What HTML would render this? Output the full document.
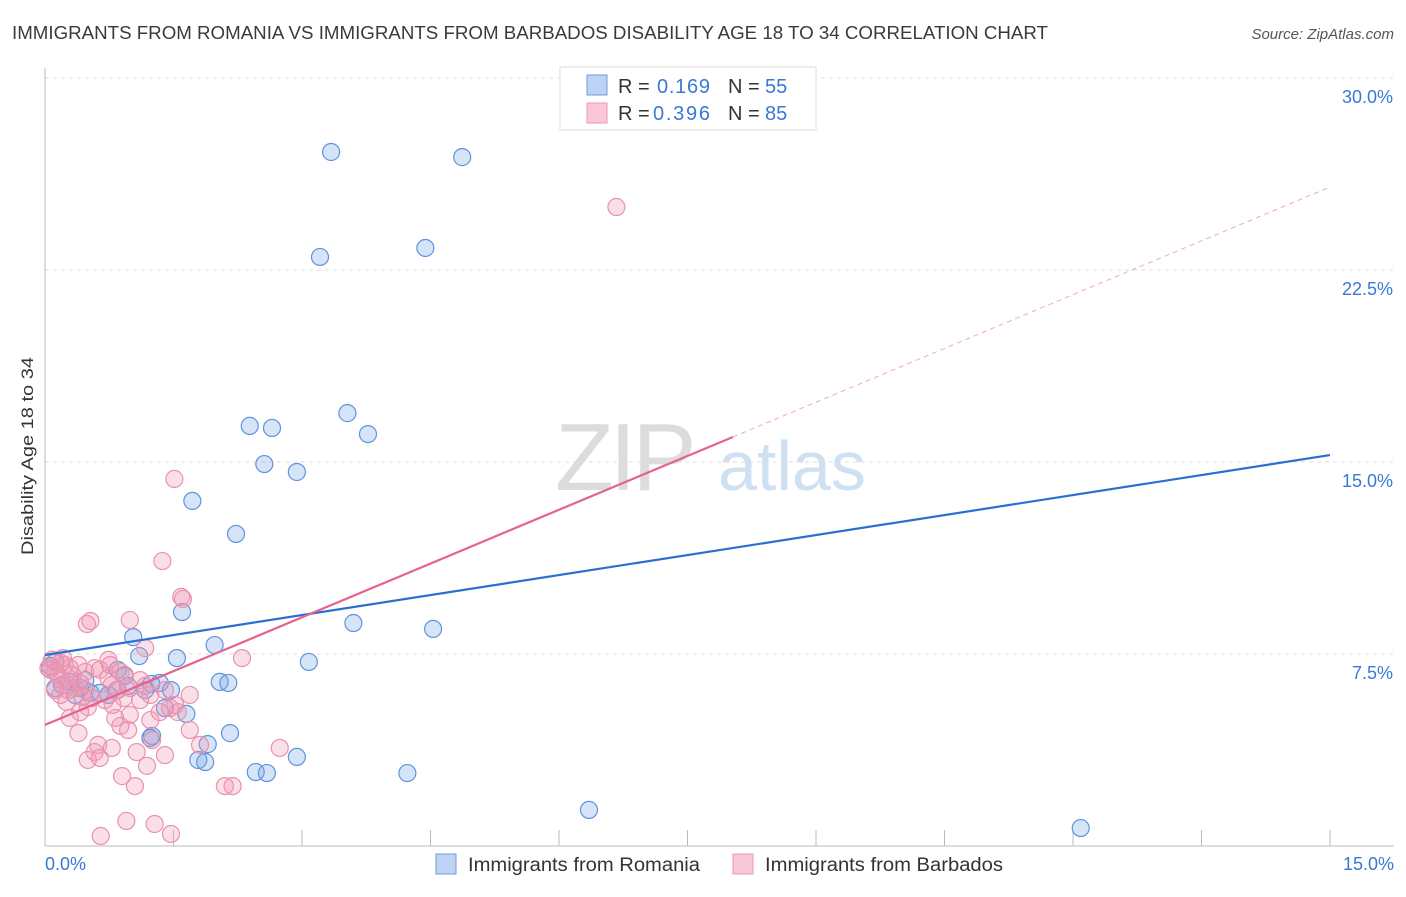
<!DOCTYPE html>
<html><head><meta charset="utf-8"><style>
body{margin:0;background:#fff;font-family:"Liberation Sans",sans-serif;}
svg text{font-family:"Liberation Sans",sans-serif;}
</style></head><body>
<svg id="chart" width="1406" height="892" viewBox="0 0 1406 892" xmlns="http://www.w3.org/2000/svg">
<text x="12" y="39" font-size="18" fill="#3a3a3a" textLength="1036" lengthAdjust="spacingAndGlyphs">IMMIGRANTS FROM ROMANIA VS IMMIGRANTS FROM BARBADOS DISABILITY AGE 18 TO 34 CORRELATION CHART</text>
<text x="1394" y="39" font-size="15" fill="#555" text-anchor="end" font-style="italic">Source: ZipAtlas.com</text>
<g>
<text x="555" y="490" font-size="96" fill="#dcdcdc" font-family="Liberation Serif" letter-spacing="-4">ZIP</text>
<text x="718" y="490" font-size="70" fill="#cfe0f3">atlas</text>
</g>
<g id="grid"></g>
<g id="axes"></g>
<g id="marks"></g>
<text transform="translate(33,456) rotate(-90)" font-size="17" fill="#333" text-anchor="middle" textLength="198" lengthAdjust="spacingAndGlyphs">Disability Age 18 to 34</text>
<g>
<rect x="560" y="67" width="256" height="63" fill="#fff" stroke="#ddd"/>
<rect x="587" y="75" width="20" height="20" fill="#bcd3f3" stroke="#6a9be0"/>
<rect x="587" y="103" width="20" height="20" fill="#f9c7d5" stroke="#ec98b2"/>
<text x="618" y="93" font-size="20" fill="#333">R =</text><text x="657" y="93" font-size="20" fill="#3a78d4" textLength="53">0.169</text>
<text x="728" y="93" font-size="20" fill="#333">N =</text><text x="765" y="93" font-size="20" fill="#3a78d4">55</text>
<text x="618" y="120" font-size="20" fill="#333">R =</text><text x="653" y="120" font-size="20" fill="#3a78d4" textLength="57">0.396</text>
<text x="728" y="120" font-size="20" fill="#333">N =</text><text x="765" y="120" font-size="20" fill="#3a78d4">85</text>
</g>
<g>
<rect x="436" y="854" width="20" height="20" fill="#bcd3f3" stroke="#6a9be0"/>
<text x="468" y="871" font-size="19" fill="#333" textLength="232" lengthAdjust="spacingAndGlyphs">Immigrants from Romania</text>
<rect x="733" y="854" width="20" height="20" fill="#f9c7d5" stroke="#ec98b2"/>
<text x="765" y="871" font-size="19" fill="#333" textLength="238" lengthAdjust="spacingAndGlyphs">Immigrants from Barbados</text>
</g>
</svg>
<script>
const yTicks=[7.5,15,22.5,30];
const yTickLabels=["7.5%","15.0%","22.5%","30.0%"];
const xTickCount=10;
const romX=[3.34,4.87,4.44,3.21,3.53,2.39,2.65,3.77,2.56,2.94,1.72,2.23,1.60,3.60,4.53,1.03,1.98,1.10,1.54,3.08,0.12,0.85,0.93,1.34,2.04,2.14,1.24,1.47,0.12,0.20,0.53,0.64,0.84,0.97,0.29,0.41,1.40,1.65,1.90,2.16,1.79,1.87,2.46,2.59,2.94,4.23,1.25,1.23,6.35,12.09,0.06,0.47,0.74,1.17,0.35];
const romY=[27.11,26.91,23.36,23.01,16.91,16.41,16.33,16.09,14.92,14.61,13.48,12.19,9.14,8.71,8.48,8.16,7.85,7.42,7.34,7.19,7.19,6.88,6.64,6.37,6.41,6.37,6.33,6.09,6.17,6.29,5.98,5.98,6.09,6.25,6.41,6.17,5.39,5.16,3.98,4.41,3.36,3.28,2.89,2.85,3.48,2.85,4.30,4.22,1.41,0.70,7.03,6.48,5.90,6.09,5.90];
const barX=[6.67,1.51,1.37,1.59,1.61,0.99,0.49,0.53,2.30,1.17,0.18,0.23,0.29,0.06,0.12,0.15,0.20,0.27,0.35,0.41,0.47,0.58,0.64,0.76,0.88,0.93,0.74,0.78,0.85,0.99,1.11,1.17,0.70,0.50,0.29,0.41,0.82,0.99,0.88,0.97,1.25,1.46,1.55,1.69,0.62,0.58,0.50,0.64,0.78,1.07,1.19,1.40,0.90,1.05,2.10,2.19,2.74,0.95,1.28,0.65,1.47,0.39,0.25,0.47,0.55,0.12,0.04,0.08,0.21,1.23,1.34,1.52,1.81,0.79,0.27,0.32,0.39,0.44,0.18,1.11,1.40,1.69,1.23,0.92,0.74];
const barY=[24.96,14.34,11.13,9.73,9.65,8.83,8.67,8.79,7.34,7.73,7.15,7.07,6.95,6.88,6.80,6.68,6.48,6.29,6.17,6.37,6.80,6.95,6.88,7.07,6.80,6.68,6.56,6.29,6.09,6.17,6.48,6.25,5.70,5.43,5.00,5.23,5.00,5.12,4.69,4.53,4.14,5.39,5.23,4.53,3.95,3.67,3.36,3.44,3.83,3.67,3.13,3.55,2.73,2.34,2.34,2.34,3.83,0.98,0.86,0.39,0.47,4.41,5.63,6.09,5.78,6.09,6.95,7.27,7.34,5.90,5.23,5.51,3.95,5.51,6.09,6.68,7.07,5.82,5.90,5.70,6.09,5.90,4.92,5.78,7.27];
const romTrend=[7.46,15.27];
const barTrend=[4.73,25.74];
const barSolidEnd=8.03;

const NS="http://www.w3.org/2000/svg";
const X0=45,X1=1330,Y0=846,Y1=78;
function sx(v){return X0+(v/15)*(X1-X0);}
function sy(v){return Y0-(v/30)*(Y0-Y1);}
function mk(tag,attrs,parent){const e=document.createElementNS(NS,tag);for(const k in attrs)e.setAttribute(k,attrs[k]);parent.appendChild(e);return e;}
const grid=document.getElementById('grid'),axes=document.getElementById('axes'),marks=document.getElementById('marks');
yTicks.forEach((t,i)=>{
  const g=mk('line',{x1:X0,x2:1394,y1:sy(t),y2:sy(t),stroke:'#ddd','stroke-dasharray':'4,4'},grid);
  
  
  const l=mk('text',{x:1393,y:sy(t)+25,'font-size':18,fill:'#3a78d4','text-anchor':'end'},axes);
  l.textContent=yTickLabels[i];
  
  
});
const xa=mk('line',{x1:X0,x2:1394,y1:Y0,y2:Y0,stroke:'#bbb'},axes);


const ya=mk('line',{x1:X0,x2:X0,y1:68,y2:Y0,stroke:'#bbb'},axes);


for(let i=0;i<=xTickCount;i++){
  const t=mk('line',{x1:sx(i*1.5),x2:sx(i*1.5),y1:Y0,y2:Y0-16,stroke:'#bbb'},axes);
  
  
}
const xl0=mk('text',{x:45,y:870,'font-size':18,fill:'#3a78d4'},axes);xl0.textContent='0.0%';


const xl1=mk('text',{x:1394,y:870,'font-size':18,fill:'#3a78d4','text-anchor':'end'},axes);xl1.textContent='15.0%';



function dots(xs,ys,fill,stroke,name){
  xs.forEach((x,i)=>{
    const c=mk('circle',{cx:sx(x),cy:sy(ys[i]),r:8.5,fill:fill,stroke:stroke,'stroke-width':1.2},marks);
    
    
  });
}
dots(romX,romY,'rgba(120,165,230,0.3)','#5f93dc','romania-point');
dots(barX,barY,'rgba(242,150,178,0.3)','#ea92ae','barbados-point');
const bt=mk('line',{x1:sx(0),y1:sy(romTrend[0]),x2:sx(15),y2:sy(romTrend[1]),stroke:'#2a6fd0','stroke-width':2.2},marks);


const pe=barTrend[0]+(barTrend[1]-barTrend[0])*barSolidEnd/15;
const pt=mk('line',{x1:sx(0),y1:sy(barTrend[0]),x2:sx(barSolidEnd),y2:sy(pe),stroke:'#e5628e','stroke-width':2.2},marks);


const pd=mk('line',{x1:sx(barSolidEnd),y1:sy(pe),x2:sx(15),y2:sy(barTrend[1]),stroke:'#eeaabf','stroke-width':1,'stroke-dasharray':'5,4'},marks);


</script>
</body></html>
